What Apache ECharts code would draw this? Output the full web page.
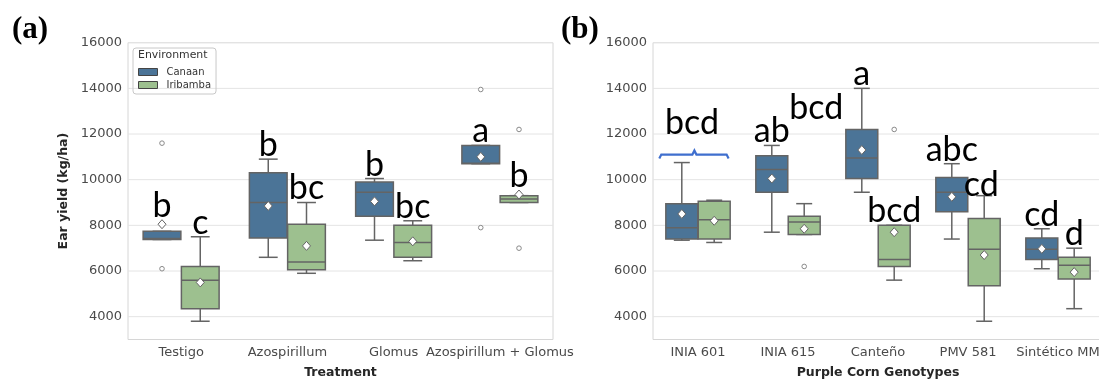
<!DOCTYPE html>
<html>
<head>
<meta charset="utf-8">
<title>Ear yield boxplots</title>
<script src="https://cdn.jsdelivr.net/npm/echarts@6/dist/echarts.min.js"></script>
<style>
  html, body { margin: 0; padding: 0; background: #fff; overflow: hidden; }
  #chart { width: 1099px; height: 381px; }
</style>
</head>
<body>
<div id="chart"></div>
<script>
// ---- values (kg/ha) ----
const treatments = ['Testigo', 'Azospirillum', 'Glomus', 'Azospirillum + Glomus'];
const genotypes = ['INIA 601', 'INIA 615', 'Canteño', 'PMV 581', 'Sintético MM'];

// box stats: [lower whisker, Q1, median, Q3, upper whisker]
const treatCanaan = [
  [7380, 7380, 7420, 7740, 7740],
  [6600, 7450, 9000, 10300, 10900],
  [7350, 8400, 9450, 9900, 10050],
  [10700, 10700, 10720, 11500, 11500]
];
const treatIribamba = [
  [3800, 4350, 5600, 6200, 7500],
  [5900, 6050, 6400, 8050, 9000],
  [6450, 6600, 7250, 8000, 8200],
  [9000, 9000, 9150, 9300, 9300]
];
const treatCanaanMean = [8050, 8850, 9050, 11000];
const treatIribambaMean = [5500, 7100, 7300, 9350];
// outliers: [category index, value]
const treatCanaanOut = [[0, 11600], [0, 6100], [3, 13950], [3, 7900]];
const treatIribambaOut = [[3, 12200], [3, 7000]];
const treatCanaanLetters = ['b', 'b', 'b', 'a'];
const treatIribambaLetters = ['c', 'bc', 'bc', 'b'];

const genoCanaan = [
  [7350, 7400, 7900, 8950, 10750],
  [7700, 9450, 10450, 11050, 11500],
  [9450, 10050, 10950, 12200, 14000],
  [7400, 8600, 9450, 10100, 10700],
  [6100, 6500, 6950, 7450, 7850]
];
const genoIribamba = [
  [7250, 7400, 8250, 9050, 9100],
  [7600, 7600, 8150, 8400, 8950],
  [5600, 6200, 6500, 8000, 8000],
  [3800, 5350, 6950, 8300, 9300],
  [4350, 5650, 6250, 6600, 7000]
];
const genoCanaanMean = [8500, 10050, 11300, 9250, 6970];
const genoIribambaMean = [8200, 7850, 7700, 6700, 5950];
const genoCanaanOut = [];
const genoIribambaOut = [[1, 6200], [2, 12200]];
const genoCanaanLetters = ['', 'ab', 'a', 'abc', 'cd'];
const genoIribambaLetters = ['', 'bcd', 'bcd', 'cd', 'd'];
const genoSharedLetters = ['bcd', '', '', '', ''];

const yTicks = [4000, 6000, 8000, 10000, 12000, 14000, 16000];

// ---- styling ----
const CANAAN = '#4b7497';
const IRIBAMBA = '#9dc08f';
const EDGE = '#646464';
const OFFSET = 0.18;   // box centre offset, fraction of band
const BOX_W = 0.355;   // box width, fraction of band
const LETTER_FONT = { fontSize: 34, fontFamily: 'Lato', fill: '#000' };
// hand nudges [dx, dy] px for letters that sit away from their box
const nudgeGenoIri = { 1: [12, -82], 3: [-3, 3] };

function boxSeries(name, g, stats, means, letters, side, color, nudges) {
  return {
    name: name, type: 'custom', xAxisIndex: g, yAxisIndex: g,
    itemStyle: { color: color, borderColor: '#444', borderWidth: 1 },
    data: stats.map((s, i) => [i].concat(s, [means[i]])),
    encode: { x: 0, y: [1, 2, 3, 4, 5, 6] },
    clip: false, z: 3, silent: true,
    renderItem: function (params, api) {
      const i = api.value(0);
      const bw = api.size([1, 0])[0];
      const cx = api.coord([i, 0])[0] + side * OFFSET * bw;
      const half = BOX_W * bw / 2;
      const cap = half / 2;
      const y = k => api.coord([i, api.value(k)])[1];
      const lo = y(1), q1 = y(2), med = y(3), q3 = y(4), hi = y(5), mean = y(6);
      const ln = (x1, y1, x2, y2) => ({
        type: 'line', shape: { x1: x1, y1: y1, x2: x2, y2: y2 },
        style: { stroke: EDGE, lineWidth: 1.5 }
      });
      const kids = [
        ln(cx, q3, cx, hi), ln(cx - cap, hi, cx + cap, hi),
        ln(cx, q1, cx, lo), ln(cx - cap, lo, cx + cap, lo),
        { type: 'rect', shape: { x: cx - half, y: q3, width: 2 * half, height: q1 - q3 },
          style: { fill: color, stroke: EDGE, lineWidth: 1.5 } },
        ln(cx - half, med, cx + half, med),
        { type: 'polygon', shape: { points: [[cx, mean - 4.5], [cx + 4, mean], [cx, mean + 4.5], [cx - 4, mean]] },
          style: { fill: '#fff', stroke: EDGE, lineWidth: 1 } }
      ];
      const txt = letters[i];
      if (txt) {
        const nd = (nudges && nudges[i]) || [0, 0];
        const top = Math.min(hi, mean - 4.5);
        kids.push({
          type: 'text',
          style: Object.assign({ text: txt, x: cx + nd[0], y: top - 4 - 10 + nd[1],
            align: 'center', verticalAlign: 'middle' }, LETTER_FONT)
        });
      }
      return { type: 'group', children: kids };
    }
  };
}

function outlierSeries(g, pts, side) {
  return {
    name: 'outliers', type: 'custom', xAxisIndex: g, yAxisIndex: g,
    data: pts, encode: { x: 0, y: 1 }, z: 4, silent: true,
    renderItem: function (params, api) {
      const bw = api.size([1, 0])[0];
      const p = api.coord([api.value(0), api.value(1)]);
      return { type: 'circle', shape: { cx: p[0] + side * OFFSET * bw, cy: p[1], r: 2.3 },
        style: { fill: '#fff', stroke: '#8a8a8a', lineWidth: 1 } };
    }
  };
}

function gridLineSeries(g) {
  return {
    name: 'grid', type: 'custom', xAxisIndex: g, yAxisIndex: g,
    data: yTicks.map(v => [0, v]), encode: { x: 0, y: 1 }, z: 1, silent: true,
    renderItem: function (params, api) {
      const cs = params.coordSys;
      const yy = api.coord([0, api.value(1)])[1];
      return { type: 'line', shape: { x1: cs.x, y1: yy, x2: cs.x + cs.width, y2: yy },
        style: { stroke: '#e4e4e4', lineWidth: 1 } };
    }
  };
}

// shared letter above both boxes of a genotype, with a brace
const sharedLetterSeries = {
  name: 'shared', type: 'custom', xAxisIndex: 1, yAxisIndex: 1,
  data: genoSharedLetters.map((t, i) => [i, Math.max(genoCanaan[i][4], genoIribamba[i][4])]).filter((d, i) => genoSharedLetters[i]),
  encode: { x: 0, y: 1 }, z: 5, clip: false, silent: true,
  renderItem: function (params, api) {
    const i = api.value(0);
    const bw = api.size([1, 0])[0];
    const p = api.coord([i, api.value(1)]);
    const cx = p[0];
    const h = p[1] - 8;
    const x0 = cx - 0.43 * bw, x1 = cx + 0.34 * bw, xm = cx - 0.04 * bw;
    return { type: 'group', children: [
      { type: 'polyline', shape: { points: [[x0, h + 4], [x0 + 2, h], [xm - 2, h], [xm, h - 4], [xm + 2, h], [x1 - 2, h], [x1, h + 4]] },
        style: { stroke: '#3f6fce', lineWidth: 2.2, fill: null } },
      { type: 'text', style: Object.assign({ text: genoSharedLetters[i], x: cx - 6, y: h - 22 - 10,
          align: 'center', verticalAlign: 'middle' }, LETTER_FONT) }
    ] };
  }
};

const tickLabel = { fontSize: 13, color: '#4a4a4a', fontFamily: 'DejaVu Sans' };
const axisTitle = { fontSize: 12.5, fontWeight: 'bold', color: '#262626', fontFamily: 'DejaVu Sans' };

function xAxis(g, cats, name) {
  return {
    type: 'category', gridIndex: g, data: cats, boundaryGap: true,
    axisLine: { show: false }, axisTick: { show: false },
    axisLabel: Object.assign({ interval: 0, margin: 7 }, tickLabel),
    name: name, nameLocation: 'middle', nameGap: 27, nameTextStyle: axisTitle
  };
}
function yAxis(g, name) {
  return {
    type: 'value', gridIndex: g, min: 3000, max: 16000, interval: 1000,
    axisLine: { show: false }, axisTick: { show: false }, splitLine: { show: false },
    axisLabel: Object.assign({ margin: 6, formatter: v => (yTicks.indexOf(v) >= 0 ? String(v) : '') }, tickLabel),
    name: name, nameLocation: 'middle', nameRotate: 90, nameGap: 58, nameTextStyle: axisTitle
  };
}

const chart = echarts.init(document.getElementById('chart'), null, { renderer: 'canvas' });
chart.setOption({
  animation: false,
  backgroundColor: '#fff',
  title: [
    { text: '(a)', left: 12, top: 14, padding: 0,
      textStyle: { fontFamily: 'Liberation Serif', fontWeight: 'bold', fontSize: 31, color: '#000' } },
    { text: '(b)', left: 561, top: 14, padding: 0,
      textStyle: { fontFamily: 'Liberation Serif', fontWeight: 'bold', fontSize: 31, color: '#000' } },
    { text: 'Environment', left: 138, top: 50, padding: 0,
      textStyle: { fontFamily: 'DejaVu Sans', fontWeight: 'normal', fontSize: 10.9, color: '#333' } }
  ],
  legend: {
    data: ['Canaan', 'Iribamba'], orient: 'vertical', left: 133, top: 48,
    padding: [19, 5, 4, 5], itemGap: 3, itemWidth: 19, itemHeight: 7, icon: 'rect',
    borderColor: '#c8c8c8', borderWidth: 1, borderRadius: 3,
    itemStyle: { borderColor: '#444', borderWidth: 1 },
    textStyle: { fontFamily: 'DejaVu Sans', fontSize: 10, color: '#333', padding: [0, 0, 0, 4] },
    selectedMode: false
  },
  grid: [
    { left: 128, top: 42.7, width: 425, height: 296.8, show: true, borderColor: '#d6d6d6', borderWidth: 1, outerBoundsMode: 'none' },
    { left: 653, top: 42.7, width: 450, height: 296.8, show: true, borderColor: '#d6d6d6', borderWidth: 1, outerBoundsMode: 'none' }
  ],
  xAxis: [xAxis(0, treatments, 'Treatment'), xAxis(1, genotypes, 'Purple Corn Genotypes')],
  yAxis: [yAxis(0, 'Ear yield (kg/ha)'), yAxis(1, '')],
  series: [
    gridLineSeries(0),
    gridLineSeries(1),
    boxSeries('Canaan', 0, treatCanaan, treatCanaanMean, treatCanaanLetters, -1, CANAAN, null),
    boxSeries('Iribamba', 0, treatIribamba, treatIribambaMean, treatIribambaLetters, 1, IRIBAMBA, null),
    boxSeries('Canaan', 1, genoCanaan, genoCanaanMean, genoCanaanLetters, -1, CANAAN, null),
    boxSeries('Iribamba', 1, genoIribamba, genoIribambaMean, genoIribambaLetters, 1, IRIBAMBA, nudgeGenoIri),
    outlierSeries(0, treatCanaanOut, -1),
    outlierSeries(0, treatIribambaOut, 1),
    outlierSeries(1, genoCanaanOut, -1),
    outlierSeries(1, genoIribambaOut, 1),
    sharedLetterSeries
  ]
});
</script>
</body>
</html>
